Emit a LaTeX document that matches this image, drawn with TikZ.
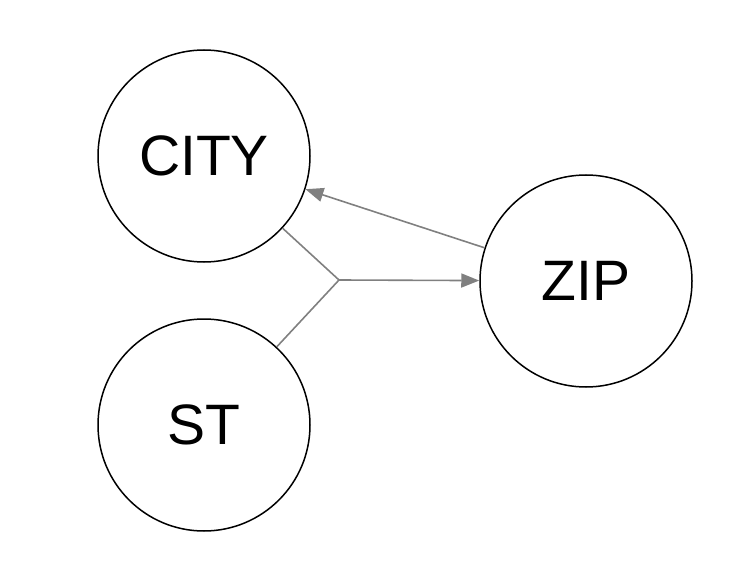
\documentclass[tikz,border=0pt]{standalone}
\usepackage{fontspec}
\setmainfont{Liberation Sans}
\usetikzlibrary{arrows.meta}
\begin{document}
\begin{tikzpicture}[x=1pt,y=-1pt,
  ent/.style={circle,draw=black,line width=1.5pt,minimum size=212pt,inner sep=0pt,
    font=\fontsize{57}{68}\selectfont},
  conn/.style={draw={rgb,255:red,128;green,128;blue,128},line width=1.6pt},
  tip/.style={-{Triangle[length=18pt,width=14pt]}}]
\useasboundingbox (0,0) rectangle (744,564);
\node[ent] (city) at (204,156) {CITY};
\node[ent] (st) at (204,425) {ST};
\node[ent] (zip) at (586,281) {ZIP};
\coordinate (j) at (339,280);
\draw[conn] (city) -- (j);
\draw[conn] (st) -- (j);
\draw[conn,tip] (j) -- (zip);
\draw[conn,tip] (zip) -- (city);
\end{tikzpicture}
\end{document}
